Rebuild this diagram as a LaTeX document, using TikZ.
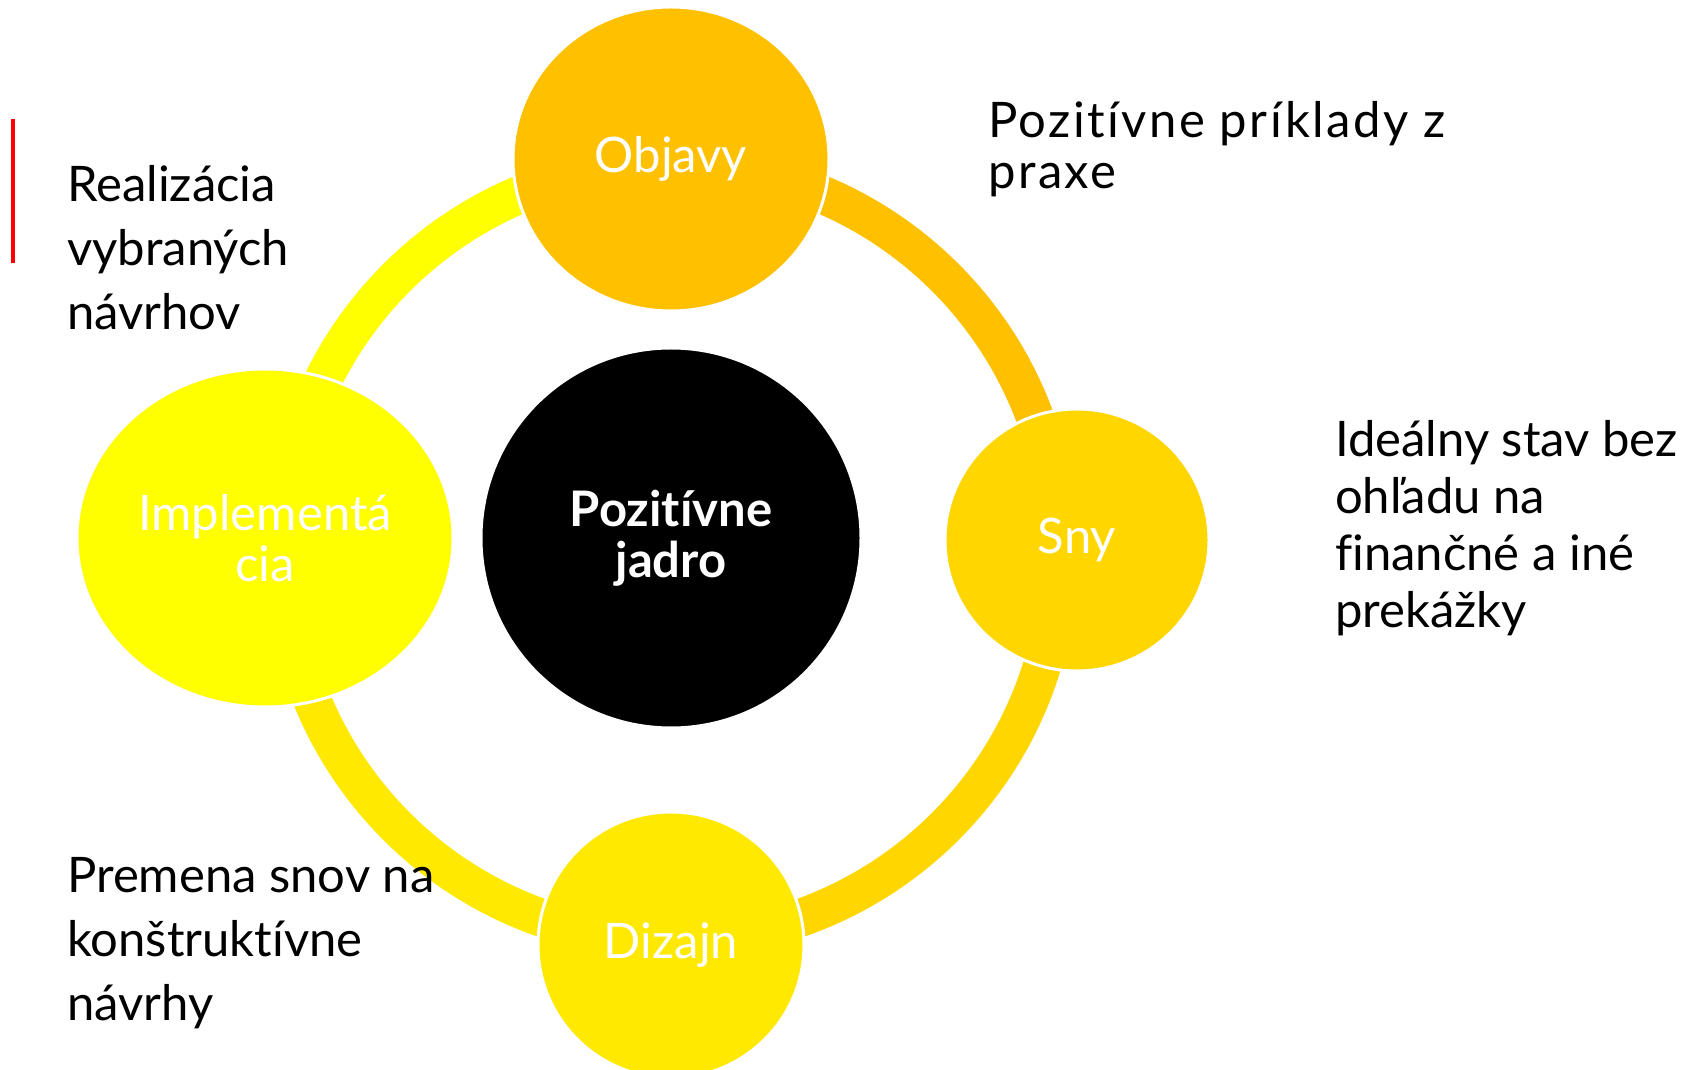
\documentclass[tikz,border=0pt]{standalone}
\usepackage{fontspec}
\setmainfont{Lato}[Ligatures=NoCommon]
\usetikzlibrary{shapes.geometric}
\definecolor{cycobjavy}{RGB}{255,192,0}
\definecolor{cycsny}{RGB}{255,214,0}
\definecolor{cycdizajn}{RGB}{255,233,0}
\definecolor{cycimpl}{RGB}{255,255,0}

\begin{document}
\begin{tikzpicture}[x=1pt,y=1pt,
  phase/.style={ellipse,inner sep=0pt,draw=white,line width=3pt,text=white,align=center,font=\fontsize{49}{51}\selectfont},
  band/.style={line width=38pt},
  note/.style={anchor=base west,inner sep=0pt,align=left,font=\fontsize{49}{64}\selectfont}]
  \clip (0,0) rectangle (1692,1069);
  \coordinate (ring) at (671,517);
  % ring segments, each in the colour of the phase it leaves
  \draw[band,cycimpl] (ring) ++(180:388) arc[start angle=180,end angle=90,radius=388];
  \draw[band,cycobjavy] (ring) ++(90:388) arc[start angle=90,end angle=0,radius=388];
  \draw[band,cycsny] (ring) ++(0:388) arc[start angle=0,end angle=-90,radius=388];
  \draw[band,cycdizajn] (ring) ++(-90:388) arc[start angle=-90,end angle=-180,radius=388];
  % phases
  \node[phase,fill=black,minimum width=380pt,minimum height=380pt,font=\bfseries\fontsize{49}{51}\selectfont] (jadro) at (671,531) {Pozitívne\\jadro};
  \node[phase,fill=cycobjavy,minimum width=316pt,minimum height=304pt] (objavy) at (671,910) {Objavy};
  \node[phase,fill=cycsny,minimum width=264pt,minimum height=262pt] (sny) at (1077,529) {Sny};
  \node[phase,fill=cycdizajn,minimum width=266pt,minimum height=266pt] (dizajn) at (671,124) {Dizajn};
  \node[phase,fill=cycimpl,minimum width=376pt,minimum height=338pt] (impl) at (265,531) {Implementá\\cia};
  % notes (base = last line)
  \fill[red] (11,806) rectangle (15,950);
  \node[note] (realizacia) at (67,739) {Realizácia\\vybraných\\návrhov};
  \node[note,font=\addfontfeatures{LetterSpace=5}\fontsize{49}{51}\selectfont] (prax) at (988,880) {Pozitívne príklady z\\praxe};
  \node[note,font=\fontsize{49}{57}\selectfont] (idealny) at (1335,441) {Ideálny stav bez\\ohľadu na\\finančné a iné\\prekážky};
  \node[note] (premena) at (67,49) {Premena snov na\\konštruktívne\\návrhy};
\end{tikzpicture}
\end{document}
